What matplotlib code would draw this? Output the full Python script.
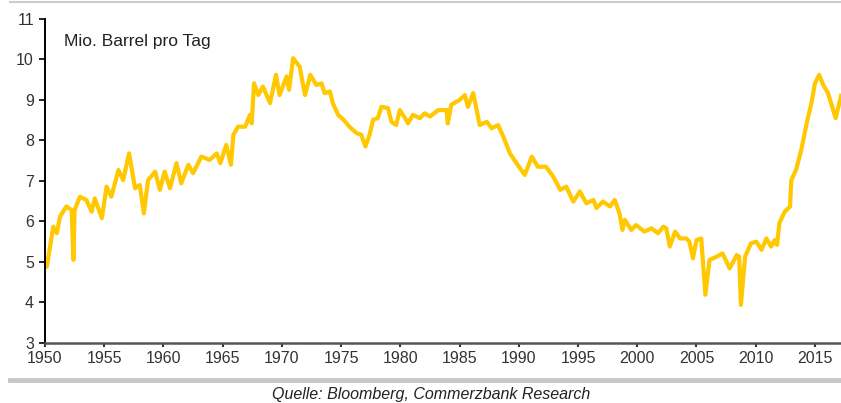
import matplotlib
matplotlib.use("Agg")
import matplotlib.pyplot as plt
from matplotlib.lines import Line2D

plt.rcParams['font.family'] = ['Liberation Sans', 'DejaVu Sans']

# US-Rohölproduktion, Mio. Barrel pro Tag
years = [1950.0, 1950.15, 1950.7, 1951.0, 1951.27, 1951.8, 1952.25, 1952.4, 1952.5,
         1952.95, 1953.5, 1953.94, 1954.2, 1954.8, 1955.2, 1955.6, 1956.2, 1956.6,
         1957.1, 1957.6, 1958.0, 1958.35, 1958.7, 1959.3, 1959.7, 1960.1, 1960.55,
         1961.1, 1961.5, 1962.1, 1962.5, 1963.2, 1963.9, 1964.5, 1964.8, 1965.3,
         1965.7, 1965.9, 1966.3, 1966.9, 1967.3, 1967.45, 1967.65, 1968.0, 1968.4,
         1969.0, 1969.5, 1969.8, 1970.4, 1970.6, 1970.95, 1971.5, 1971.95, 1972.4,
         1972.9, 1973.35, 1973.6, 1974.05, 1974.3, 1974.75, 1975.2, 1975.7, 1976.3,
         1976.7, 1977.05, 1977.4, 1977.7, 1978.1, 1978.4, 1978.95, 1979.25, 1979.65,
         1979.95, 1980.4, 1980.65, 1981.05, 1981.65, 1982.05, 1982.5, 1983.2, 1983.9,
         1984.0, 1984.3, 1985.0, 1985.45, 1985.7, 1986.15, 1986.7, 1987.3, 1987.7,
         1988.25, 1988.7, 1989.25, 1989.8, 1990.5, 1991.1, 1991.6, 1992.3, 1992.9,
         1993.5, 1994.0, 1994.6, 1995.15, 1995.7, 1996.3, 1996.55, 1997.1, 1997.7,
         1998.1, 1998.5, 1998.75, 1998.95, 1999.5, 1999.9, 2000.6, 2001.2, 2001.75,
         2002.2, 2002.45, 2002.75, 2003.2, 2003.6, 2004.15, 2004.4, 2004.7, 2005.0,
         2005.4, 2005.75, 2006.1, 2006.7, 2007.2, 2007.8, 2008.4, 2008.6, 2008.75,
         2009.1, 2009.6, 2010.05, 2010.5, 2010.9, 2011.3, 2011.6, 2011.8, 2012.0,
         2012.45, 2012.9, 2013.0, 2013.4, 2013.85, 2014.3, 2014.7, 2015.0, 2015.35,
         2015.7, 2016.1, 2016.75, 2017.2]
production = [4.95, 4.88, 5.87, 5.71, 6.12, 6.37, 6.28, 5.05, 6.28,
              6.61, 6.53, 6.24, 6.57, 6.08, 6.86, 6.61, 7.27, 7.02,
              7.68, 6.82, 6.90, 6.20, 7.02, 7.23, 6.78, 7.23, 6.82,
              7.44, 6.94, 7.40, 7.19, 7.60, 7.52, 7.68, 7.44, 7.89,
              7.40, 8.14, 8.34, 8.34, 8.63, 8.42, 9.41, 9.12, 9.33,
              8.92, 9.62, 9.12, 9.58, 9.25, 10.03, 9.82, 9.12, 9.62,
              9.37, 9.41, 9.17, 9.21, 8.92, 8.63, 8.51, 8.34, 8.18,
              8.14, 7.85, 8.14, 8.51, 8.55, 8.83, 8.80, 8.46, 8.38,
              8.75, 8.55, 8.42, 8.63, 8.55, 8.67, 8.59, 8.75, 8.75,
              8.42, 8.88, 9.00, 9.12, 8.83, 9.17, 8.38, 8.46, 8.30,
              8.38, 8.09, 7.68, 7.44, 7.15, 7.60, 7.35, 7.35, 7.11,
              6.78, 6.86, 6.49, 6.74, 6.45, 6.53, 6.33, 6.49, 6.37,
              6.53, 6.20, 5.79, 6.04, 5.79, 5.91, 5.75, 5.83, 5.71,
              5.87, 5.83, 5.38, 5.75, 5.58, 5.58, 5.50, 5.09, 5.54,
              5.58, 4.19, 5.05, 5.13, 5.21, 4.84, 5.17, 5.13, 3.94,
              5.13, 5.46, 5.50, 5.30, 5.58, 5.38, 5.54, 5.42, 5.96,
              6.24, 6.37, 7.02, 7.27, 7.77, 8.42, 8.92, 9.41, 9.62,
              9.37, 9.17, 8.55, 9.10]

y_ticks = [3, 4, 5, 6, 7, 8, 9, 10, 11]
x_ticks = list(range(1950, 2016, 5))

fig = plt.figure(figsize=(8.41, 4.03), dpi=100)
ax = fig.add_axes([0.0535, 0.149, 0.9465, 0.804])

ax.plot(years, production, color='#FFC800', lw=3.0, solid_joinstyle='round')

ax.set_xlim(1950, 2017.2)
ax.set_ylim(3, 11)
ax.set_xticks(x_ticks)
ax.set_yticks(y_ticks)

for s in ['top', 'right']:
    ax.spines[s].set_visible(False)
ax.spines['left'].set_color('black')
ax.spines['left'].set_linewidth(1.4)
ax.spines['bottom'].set_color('#555555')
ax.spines['bottom'].set_linewidth(1.8)

ax.tick_params(axis='y', direction='out', length=4, width=1.2, color='black',
               labelsize=11.5, labelcolor='#333333', pad=4)
ax.tick_params(axis='x', direction='out', length=3, width=1.5, color='#333333',
               labelsize=11.5, labelcolor='#333333', pad=3)

ax.text(0.024, 0.955, 'Mio. Barrel pro Tag', transform=ax.transAxes,
        fontsize=12.5, color='#222222', va='top', ha='left')

# graue Rahmenlinien oben und unten
fig.add_artist(Line2D([0.012, 1.0], [0.995, 0.995], transform=fig.transFigure,
                      color='#cccccc', lw=1.5))
fig.add_artist(Line2D([0.012, 1.0], [0.057, 0.057], transform=fig.transFigure,
                      color='#c8c8c8', lw=3.5))

fig.text(0.513, 0.022, 'Quelle: Bloomberg, Commerzbank Research', fontsize=11.5,
         style='italic', color='#222222', ha='center', va='center')

fig.savefig('out.png', dpi=100)
